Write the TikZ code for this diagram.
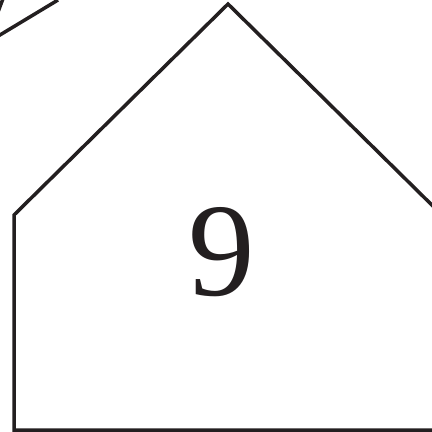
\documentclass[tikz,border=0pt]{standalone}
\usepackage{fontspec}
\setmainfont{Liberation Serif}
\usepackage{xcolor}
\usepackage{tikz}
\definecolor{ink}{HTML}{231F20}

\begin{document}
\begin{tikzpicture}[
    x=1pt, y=-1pt,
    outline/.style={draw=ink, line width=3.5pt, line join=miter},
    digit/.style={text=ink, font=\fontsize{133}{133}\selectfont, inner sep=0pt}
]
\useasboundingbox (0,0) rectangle (432,432);
\clip (0,0) rectangle (432,432);
% neighbouring shape, cut off at the corner
\draw[outline] (-20,47) -- (58,0);
\draw[outline] (-2,12) -- (4,-4);
% house outline
\draw[outline] (14,432) -- (14,215) -- (228,4) -- (442,215) -- (442,430) -- (14,430);
\node[digit] (num) at (222,252) {9};
\end{tikzpicture}
\end{document}
